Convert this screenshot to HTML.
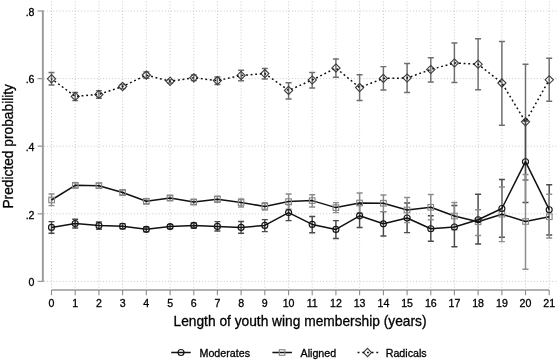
<!DOCTYPE html>
<html><head><meta charset="utf-8"><title>Predicted probability by length of youth wing membership</title>
<style>
html,body{margin:0;padding:0;background:#fff;}
body{width:560px;height:362px;overflow:hidden;}
svg{display:block;}
text{font-family:"Liberation Sans",Arial,Helvetica,sans-serif;fill:#000;stroke:#000;stroke-width:0.3px;}
.grid line{stroke:#c8c8c8;stroke-width:1;stroke-dasharray:1 2.1;}
.axis{stroke:#999;stroke-width:1.5;fill:none;}
.tick{font-size:10.6px;}
</style></head><body>
<svg width="560" height="362" viewBox="0 0 560 362">
<rect width="560" height="362" fill="#fff"/>

<g class="grid">
<line x1="51.5" y1="1.5" x2="51.5" y2="289.3"/>
<line x1="75.2" y1="1.5" x2="75.2" y2="289.3"/>
<line x1="98.9" y1="1.5" x2="98.9" y2="289.3"/>
<line x1="122.6" y1="1.5" x2="122.6" y2="289.3"/>
<line x1="146.3" y1="1.5" x2="146.3" y2="289.3"/>
<line x1="170.1" y1="1.5" x2="170.1" y2="289.3"/>
<line x1="193.8" y1="1.5" x2="193.8" y2="289.3"/>
<line x1="217.4" y1="1.5" x2="217.4" y2="289.3"/>
<line x1="241.1" y1="1.5" x2="241.1" y2="289.3"/>
<line x1="264.8" y1="1.5" x2="264.8" y2="289.3"/>
<line x1="288.6" y1="1.5" x2="288.6" y2="289.3"/>
<line x1="312.2" y1="1.5" x2="312.2" y2="289.3"/>
<line x1="335.9" y1="1.5" x2="335.9" y2="289.3"/>
<line x1="359.6" y1="1.5" x2="359.6" y2="289.3"/>
<line x1="383.4" y1="1.5" x2="383.4" y2="289.3"/>
<line x1="407.1" y1="1.5" x2="407.1" y2="289.3"/>
<line x1="430.8" y1="1.5" x2="430.8" y2="289.3"/>
<line x1="454.4" y1="1.5" x2="454.4" y2="289.3"/>
<line x1="478.1" y1="1.5" x2="478.1" y2="289.3"/>
<line x1="501.9" y1="1.5" x2="501.9" y2="289.3"/>
<line x1="525.5" y1="1.5" x2="525.5" y2="289.3"/>
<line x1="549.2" y1="1.5" x2="549.2" y2="289.3"/>
<line x1="44" y1="281.4" x2="558" y2="281.4"/>
<line x1="44" y1="213.8" x2="558" y2="213.8"/>
<line x1="44" y1="146.2" x2="558" y2="146.2"/>
<line x1="44" y1="78.6" x2="558" y2="78.6"/>
<line x1="44" y1="11.0" x2="558" y2="11.0"/>
</g>
<path class="axis" d="M42.85 10.3V282.1" style="stroke-width:1.9"/>
<path class="axis" d="M37.6 281.4H42.6" style="stroke-width:1.3"/>
<path class="axis" d="M37.6 213.8H42.6" style="stroke-width:1.3"/>
<path class="axis" d="M37.6 146.2H42.6" style="stroke-width:1.3"/>
<path class="axis" d="M37.6 78.6H42.6" style="stroke-width:1.3"/>
<path class="axis" d="M37.6 11.0H42.6" style="stroke-width:1.3"/>
<path class="axis" d="M51.5 290H549.2"/>
<path class="axis" d="M51.5 290V295.2" style="stroke-width:1.1;stroke:#8c8c8c"/>
<path class="axis" d="M75.2 290V295.2" style="stroke-width:1.1;stroke:#8c8c8c"/>
<path class="axis" d="M98.9 290V295.2" style="stroke-width:1.1;stroke:#8c8c8c"/>
<path class="axis" d="M122.6 290V295.2" style="stroke-width:1.1;stroke:#8c8c8c"/>
<path class="axis" d="M146.3 290V295.2" style="stroke-width:1.1;stroke:#8c8c8c"/>
<path class="axis" d="M170.1 290V295.2" style="stroke-width:1.1;stroke:#8c8c8c"/>
<path class="axis" d="M193.8 290V295.2" style="stroke-width:1.1;stroke:#8c8c8c"/>
<path class="axis" d="M217.4 290V295.2" style="stroke-width:1.1;stroke:#8c8c8c"/>
<path class="axis" d="M241.1 290V295.2" style="stroke-width:1.1;stroke:#8c8c8c"/>
<path class="axis" d="M264.8 290V295.2" style="stroke-width:1.1;stroke:#8c8c8c"/>
<path class="axis" d="M288.6 290V295.2" style="stroke-width:1.1;stroke:#8c8c8c"/>
<path class="axis" d="M312.2 290V295.2" style="stroke-width:1.1;stroke:#8c8c8c"/>
<path class="axis" d="M335.9 290V295.2" style="stroke-width:1.1;stroke:#8c8c8c"/>
<path class="axis" d="M359.6 290V295.2" style="stroke-width:1.1;stroke:#8c8c8c"/>
<path class="axis" d="M383.4 290V295.2" style="stroke-width:1.1;stroke:#8c8c8c"/>
<path class="axis" d="M407.1 290V295.2" style="stroke-width:1.1;stroke:#8c8c8c"/>
<path class="axis" d="M430.8 290V295.2" style="stroke-width:1.1;stroke:#8c8c8c"/>
<path class="axis" d="M454.4 290V295.2" style="stroke-width:1.1;stroke:#8c8c8c"/>
<path class="axis" d="M478.1 290V295.2" style="stroke-width:1.1;stroke:#8c8c8c"/>
<path class="axis" d="M501.9 290V295.2" style="stroke-width:1.1;stroke:#8c8c8c"/>
<path class="axis" d="M525.5 290V295.2" style="stroke-width:1.1;stroke:#8c8c8c"/>
<path class="axis" d="M549.2 290V295.2" style="stroke-width:1.1;stroke:#8c8c8c"/>
<text class="tick" x="34.5" y="286.2" text-anchor="end">0</text>
<text class="tick" x="34.5" y="218.6" text-anchor="end">.2</text>
<text class="tick" x="34.5" y="151.0" text-anchor="end">.4</text>
<text class="tick" x="34.5" y="83.4" text-anchor="end">.6</text>
<text class="tick" x="34.5" y="15.8" text-anchor="end">.8</text>
<text class="tick" x="51.5" y="307.2" text-anchor="middle">0</text>
<text class="tick" x="75.2" y="307.2" text-anchor="middle">1</text>
<text class="tick" x="98.9" y="307.2" text-anchor="middle">2</text>
<text class="tick" x="122.6" y="307.2" text-anchor="middle">3</text>
<text class="tick" x="146.3" y="307.2" text-anchor="middle">4</text>
<text class="tick" x="170.1" y="307.2" text-anchor="middle">5</text>
<text class="tick" x="193.8" y="307.2" text-anchor="middle">6</text>
<text class="tick" x="217.4" y="307.2" text-anchor="middle">7</text>
<text class="tick" x="241.1" y="307.2" text-anchor="middle">8</text>
<text class="tick" x="264.8" y="307.2" text-anchor="middle">9</text>
<text class="tick" x="288.6" y="307.2" text-anchor="middle">10</text>
<text class="tick" x="312.2" y="307.2" text-anchor="middle">11</text>
<text class="tick" x="335.9" y="307.2" text-anchor="middle">12</text>
<text class="tick" x="359.6" y="307.2" text-anchor="middle">13</text>
<text class="tick" x="383.4" y="307.2" text-anchor="middle">14</text>
<text class="tick" x="407.1" y="307.2" text-anchor="middle">15</text>
<text class="tick" x="430.8" y="307.2" text-anchor="middle">16</text>
<text class="tick" x="454.4" y="307.2" text-anchor="middle">17</text>
<text class="tick" x="478.1" y="307.2" text-anchor="middle">18</text>
<text class="tick" x="501.9" y="307.2" text-anchor="middle">19</text>
<text class="tick" x="525.5" y="307.2" text-anchor="middle">20</text>
<text class="tick" x="549.2" y="307.2" text-anchor="middle">21</text>
<text x="300" y="326.3" font-size="13.75" text-anchor="middle">Length of youth wing membership (years)</text>
<text transform="translate(12.7 146.3) rotate(-90)" font-size="13.75" text-anchor="middle">Predicted probability</text>
<g stroke="#6e6e6e" stroke-width="1.45" fill="none">
<path d="M51.5 72.4V85.0M48.5 72.4H54.5M48.5 85.0H54.5"/>
<path d="M75.2 92.4V100.6M72.2 92.4H78.2M72.2 100.6H78.2"/>
<path d="M98.9 90.6V98.2M95.9 90.6H101.9M95.9 98.2H101.9"/>
<path d="M122.6 84.4V88.6M119.6 84.4H125.6M119.6 88.6H125.6"/>
<path d="M146.3 72.0V78.2M143.3 72.0H149.3M143.3 78.2H149.3"/>
<path d="M170.1 79.6V83.0M167.1 79.6H173.1M167.1 83.0H173.1"/>
<path d="M193.8 75.0V80.6M190.8 75.0H196.8M190.8 80.6H196.8"/>
<path d="M217.4 77.0V84.4M214.4 77.0H220.4M214.4 84.4H220.4"/>
<path d="M241.1 70.2V80.8M238.1 70.2H244.1M238.1 80.8H244.1"/>
<path d="M264.8 68.4V79.0M261.8 68.4H267.8M261.8 79.0H267.8"/>
<path d="M288.6 82.8V99.0M285.6 82.8H291.6M285.6 99.0H291.6"/>
<path d="M312.2 72.4V88.0M309.2 72.4H315.2M309.2 88.0H315.2"/>
<path d="M335.9 59.0V77.2M332.9 59.0H338.9M332.9 77.2H338.9"/>
<path d="M359.6 74.8V100.4M356.6 74.8H362.6M356.6 100.4H362.6"/>
<path d="M383.4 66.6V90.0M380.4 66.6H386.4M380.4 90.0H386.4"/>
<path d="M407.1 63.4V92.4M404.1 63.4H410.1M404.1 92.4H410.1"/>
<path d="M430.8 57.7V81.9M427.8 57.7H433.8M427.8 81.9H433.8"/>
<path d="M454.4 43.0V82.5M451.4 43.0H457.4M451.4 82.5H457.4"/>
<path d="M478.1 38.8V89.8M475.1 38.8H481.1M475.1 89.8H481.1"/>
<path d="M501.9 41.5V125.3M498.9 41.5H504.9M498.9 125.3H504.9"/>
<path d="M525.5 64.2V180.0M522.5 64.2H528.5M522.5 180.0H528.5"/>
<path d="M549.2 58.2V101.2M546.2 58.2H552.2M546.2 101.2H552.2"/>
</g>
<g stroke="#3c3c3c" stroke-width="1.1" fill="none">
<path d="M51.5 74.7L55.6 78.8L51.5 82.9L47.4 78.8Z"/>
<path d="M75.2 92.3L79.3 96.4L75.2 100.5L71.2 96.4Z"/>
<path d="M98.9 90.3L103.0 94.4L98.9 98.5L94.8 94.4Z"/>
<path d="M122.6 82.4L126.7 86.5L122.6 90.6L118.5 86.5Z"/>
<path d="M146.3 71.0L150.4 75.1L146.3 79.2L142.2 75.1Z"/>
<path d="M170.1 77.2L174.2 81.3L170.1 85.4L166.0 81.3Z"/>
<path d="M193.8 73.7L197.8 77.8L193.8 81.9L189.7 77.8Z"/>
<path d="M217.4 76.5L221.5 80.6L217.4 84.7L213.3 80.6Z"/>
<path d="M241.1 71.3L245.2 75.4L241.1 79.5L237.0 75.4Z"/>
<path d="M264.8 69.5L268.9 73.6L264.8 77.7L260.7 73.6Z"/>
<path d="M288.6 86.3L292.7 90.4L288.6 94.5L284.4 90.4Z"/>
<path d="M312.2 75.9L316.4 80.0L312.2 84.1L308.1 80.0Z"/>
<path d="M335.9 63.9L340.1 68.0L335.9 72.1L331.8 68.0Z"/>
<path d="M359.6 83.5L363.8 87.6L359.6 91.7L355.5 87.6Z"/>
<path d="M383.4 74.3L387.5 78.4L383.4 82.5L379.2 78.4Z"/>
<path d="M407.1 73.9L411.2 78.0L407.1 82.1L402.9 78.0Z"/>
<path d="M430.8 65.4L434.9 69.5L430.8 73.6L426.6 69.5Z"/>
<path d="M454.4 58.9L458.6 63.0L454.4 67.1L450.3 63.0Z"/>
<path d="M478.1 60.1L482.2 64.2L478.1 68.3L474.0 64.2Z"/>
<path d="M501.9 78.9L506.0 83.0L501.9 87.1L497.8 83.0Z"/>
<path d="M525.5 117.7L529.6 121.8L525.5 125.9L521.4 121.8Z"/>
<path d="M549.2 75.7L553.4 79.8L549.2 83.8L545.1 79.8Z"/>
</g>
<g stroke="#4a4a4a" stroke-width="1.45" fill="none">
<path d="M51.5 221.6V233.2M48.5 221.6H54.5M48.5 233.2H54.5"/>
<path d="M75.2 219.2V228.0M72.2 219.2H78.2M72.2 228.0H78.2"/>
<path d="M98.9 222.0V229.2M95.9 222.0H101.9M95.9 229.2H101.9"/>
<path d="M122.6 223.6V228.8M119.6 223.6H125.6M119.6 228.8H125.6"/>
<path d="M146.3 226.9V231.7M143.3 226.9H149.3M143.3 231.7H149.3"/>
<path d="M170.1 224.6V228.6M167.1 224.6H173.1M167.1 228.6H173.1"/>
<path d="M193.8 223.0V228.0M190.8 223.0H196.8M190.8 228.0H196.8"/>
<path d="M217.4 221.6V231.0M214.4 221.6H220.4M214.4 231.0H220.4"/>
<path d="M241.1 221.4V233.2M238.1 221.4H244.1M238.1 233.2H244.1"/>
<path d="M264.8 219.6V231.6M261.8 219.6H267.8M261.8 231.6H267.8"/>
<path d="M288.6 204.6V220.6M285.6 204.6H291.6M285.6 220.6H291.6"/>
<path d="M312.2 216.4V232.8M309.2 216.4H315.2M309.2 232.8H315.2"/>
<path d="M335.9 220.6V238.4M332.9 220.6H338.9M332.9 238.4H338.9"/>
<path d="M359.6 204.4V227.4M356.6 204.4H362.6M356.6 227.4H362.6"/>
<path d="M383.4 211.6V236.0M380.4 211.6H386.4M380.4 236.0H386.4"/>
<path d="M407.1 203.0V232.6M404.1 203.0H410.1M404.1 232.6H410.1"/>
<path d="M430.8 215.8V241.2M427.8 215.8H433.8M427.8 241.2H433.8"/>
<path d="M454.4 205.4V246.8M451.4 205.4H457.4M451.4 246.8H457.4"/>
<path d="M478.1 194.2V244.0M475.1 194.2H481.1M475.1 244.0H481.1"/>
<path d="M501.9 179.4V237.3M498.9 179.4H504.9M498.9 237.3H504.9"/>
<path d="M525.5 121.0V202.5M522.5 121.0H528.5M522.5 202.5H528.5"/>
<path d="M549.2 184.8V234.9M546.2 184.8H552.2M546.2 234.9H552.2"/>
</g>
<g stroke="#8c8c8c" stroke-width="1.45" fill="none">
<path d="M51.5 194.0V205.6M48.5 194.0H54.5M48.5 205.6H54.5"/>
<path d="M75.2 182.7V187.9M72.2 182.7H78.2M72.2 187.9H78.2"/>
<path d="M98.9 183.1V188.3M95.9 183.1H101.9M95.9 188.3H101.9"/>
<path d="M122.6 190.0V195.0M119.6 190.0H125.6M119.6 195.0H125.6"/>
<path d="M146.3 198.8V203.8M143.3 198.8H149.3M143.3 203.8H149.3"/>
<path d="M170.1 195.5V200.5M167.1 195.5H173.1M167.1 200.5H173.1"/>
<path d="M193.8 199.5V204.5M190.8 199.5H196.8M190.8 204.5H196.8"/>
<path d="M217.4 196.2V202.2M214.4 196.2H220.4M214.4 202.2H220.4"/>
<path d="M241.1 199.0V207.0M238.1 199.0H244.1M238.1 207.0H244.1"/>
<path d="M264.8 202.6V210.0M261.8 202.6H267.8M261.8 210.0H267.8"/>
<path d="M288.6 194.0V209.2M285.6 194.0H291.6M285.6 209.2H291.6"/>
<path d="M312.2 194.8V207.0M309.2 194.8H315.2M309.2 207.0H315.2"/>
<path d="M335.9 202.6V212.6M332.9 202.6H338.9M332.9 212.6H338.9"/>
<path d="M359.6 193.0V213.0M356.6 193.0H362.6M356.6 213.0H362.6"/>
<path d="M383.4 195.0V211.6M380.4 195.0H386.4M380.4 211.6H386.4"/>
<path d="M407.1 197.4V222.6M404.1 197.4H410.1M404.1 222.6H410.1"/>
<path d="M430.8 194.4V219.7M427.8 194.4H433.8M427.8 219.7H433.8"/>
<path d="M454.4 202.4V229.7M451.4 202.4H457.4M451.4 229.7H457.4"/>
<path d="M478.1 209.7V235.5M475.1 209.7H481.1M475.1 235.5H481.1"/>
<path d="M501.9 187.0V241.6M498.9 187.0H504.9M498.9 241.6H504.9"/>
<path d="M525.5 174.4V269.3M522.5 174.4H528.5M522.5 269.3H528.5"/>
<path d="M549.2 194.2V238.0M546.2 194.2H552.2M546.2 238.0H552.2"/>
</g>
<polyline points="51.5,200.0 75.2,185.3 98.9,185.7 122.6,192.5 146.3,201.3 170.1,198.0 193.8,202.0 217.4,199.2 241.1,202.5 264.8,206.4 288.6,201.6 312.2,200.6 335.9,207.6 359.6,203.0 383.4,203.2 407.1,210.0 430.8,207.3 454.4,216.0 478.1,221.8 501.9,214.2 525.5,221.5 549.2,216.7" fill="none" stroke="#111" stroke-width="1.5" stroke-linejoin="round"/>
<g stroke="#858585" stroke-width="1.1" fill="none">
<rect x="48.8" y="197.2" width="5.6" height="5.6"/>
<rect x="72.5" y="182.5" width="5.6" height="5.6"/>
<rect x="96.1" y="182.9" width="5.6" height="5.6"/>
<rect x="119.8" y="189.7" width="5.6" height="5.6"/>
<rect x="143.5" y="198.5" width="5.6" height="5.6"/>
<rect x="167.2" y="195.2" width="5.6" height="5.6"/>
<rect x="190.9" y="199.2" width="5.6" height="5.6"/>
<rect x="214.6" y="196.4" width="5.6" height="5.6"/>
<rect x="238.3" y="199.7" width="5.6" height="5.6"/>
<rect x="262.0" y="203.6" width="5.6" height="5.6"/>
<rect x="285.8" y="198.8" width="5.6" height="5.6"/>
<rect x="309.4" y="197.8" width="5.6" height="5.6"/>
<rect x="333.1" y="204.8" width="5.6" height="5.6"/>
<rect x="356.8" y="200.2" width="5.6" height="5.6"/>
<rect x="380.6" y="200.4" width="5.6" height="5.6"/>
<rect x="404.2" y="207.2" width="5.6" height="5.6"/>
<rect x="427.9" y="204.5" width="5.6" height="5.6"/>
<rect x="451.6" y="213.2" width="5.6" height="5.6"/>
<rect x="475.3" y="219.0" width="5.6" height="5.6"/>
<rect x="499.1" y="211.4" width="5.6" height="5.6"/>
<rect x="522.8" y="218.7" width="5.6" height="5.6"/>
<rect x="546.5" y="213.9" width="5.6" height="5.6"/>
</g>
<polyline points="51.5,227.4 75.2,223.6 98.9,225.6 122.6,226.2 146.3,229.3 170.1,226.6 193.8,225.4 217.4,226.4 241.1,227.4 264.8,225.4 288.6,212.6 312.2,224.4 335.9,229.4 359.6,215.8 383.4,223.8 407.1,218.0 430.8,228.7 454.4,227.0 478.1,219.7 501.9,208.5 525.5,161.7 549.2,209.7" fill="none" stroke="#111" stroke-width="1.5" stroke-linejoin="round"/>
<g stroke="#151515" stroke-width="1.15" fill="none">
<circle cx="51.5" cy="227.4" r="3.0"/>
<circle cx="75.2" cy="223.6" r="3.0"/>
<circle cx="98.9" cy="225.6" r="3.0"/>
<circle cx="122.6" cy="226.2" r="3.0"/>
<circle cx="146.3" cy="229.3" r="3.0"/>
<circle cx="170.1" cy="226.6" r="3.0"/>
<circle cx="193.8" cy="225.4" r="3.0"/>
<circle cx="217.4" cy="226.4" r="3.0"/>
<circle cx="241.1" cy="227.4" r="3.0"/>
<circle cx="264.8" cy="225.4" r="3.0"/>
<circle cx="288.6" cy="212.6" r="3.0"/>
<circle cx="312.2" cy="224.4" r="3.0"/>
<circle cx="335.9" cy="229.4" r="3.0"/>
<circle cx="359.6" cy="215.8" r="3.0"/>
<circle cx="383.4" cy="223.8" r="3.0"/>
<circle cx="407.1" cy="218.0" r="3.0"/>
<circle cx="430.8" cy="228.7" r="3.0"/>
<circle cx="454.4" cy="227.0" r="3.0"/>
<circle cx="478.1" cy="219.7" r="3.0"/>
<circle cx="501.9" cy="208.5" r="3.0"/>
<circle cx="525.5" cy="161.7" r="3.0"/>
<circle cx="549.2" cy="209.7" r="3.0"/>
</g>
<polyline points="51.5,78.8 75.2,96.4 98.9,94.4 122.6,86.5 146.3,75.1 170.1,81.3 193.8,77.8 217.4,80.6 241.1,75.4 264.8,73.6 288.6,90.4 312.2,80.0 335.9,68.0 359.6,87.6 383.4,78.4 407.1,78.0 430.8,69.5 454.4,63.0 478.1,64.2 501.9,83.0 525.5,121.8 549.2,79.8" fill="none" stroke="#111" stroke-width="1.5" stroke-dasharray="1.9 2.70" stroke-dashoffset="0.9" stroke-linejoin="round"/>
<path d="M171.2 352.5H190.7" stroke="#111" stroke-width="1.5"/><circle cx="181" cy="352.5" r="3.0" fill="none" stroke="#151515" stroke-width="1.15"/>
<text x="199.5" y="356.8" font-size="10.7">Moderates</text>
<path d="M272.4 352.5H291.9" stroke="#111" stroke-width="1.5"/><rect x="279.3" y="349.7" width="5.6" height="5.6" fill="none" stroke="#858585" stroke-width="1.1"/>
<text x="300.5" y="356.8" font-size="10.7">Aligned</text>
<path d="M367.5 348.4l4.1 4.1l-4.1 4.1l-4.1 -4.1Z" fill="none" stroke="#3c3c3c" stroke-width="1.1"/><path d="M357.5 352.5H378.5" stroke="#111" stroke-width="1.5" stroke-dasharray="1.9 2.8" stroke-dashoffset="-0.05"/>
<text x="385.7" y="356.8" font-size="10.7">Radicals</text>
</svg></body></html>
